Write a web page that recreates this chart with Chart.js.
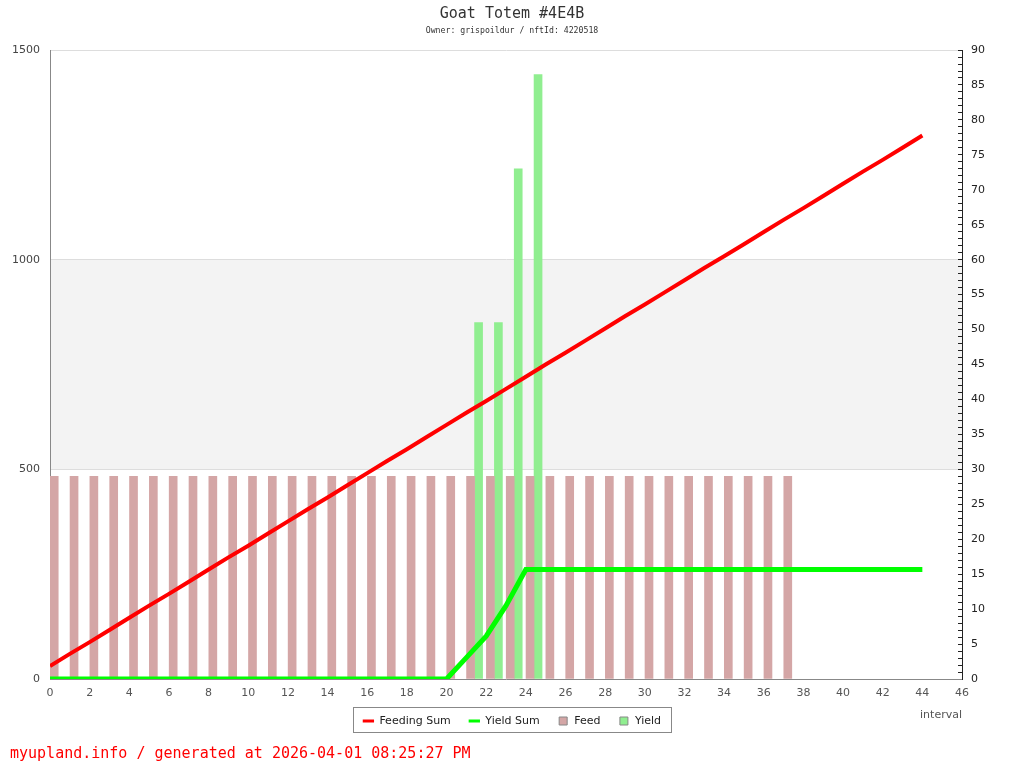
<!DOCTYPE html>
<html>
<head>
<meta charset="utf-8">
<script src="https://cdn.jsdelivr.net/npm/chart.js@4"></script>
<style>
  body { margin: 0; background: #fff; }
  #wrap { position: relative; width: 1024px; height: 768px; }
  #footer { position: absolute; left: 10px; top: 744px; font: 15px "DejaVu Sans Mono", monospace; color: #ff0000; line-height: 18px; white-space: nowrap; }
</style>
</head>
<body>
<div id="wrap">
  <canvas id="chart"></canvas>
  <div id="footer">myupland.info / generated at 2026-04-01 08:25:27 PM</div>
</div>
<script>
// data (x = interval index)
const feedingSum = [31, 60, 88, 117, 146, 175, 203, 232, 261, 290, 318, 347, 376, 405, 433, 462,
  491, 520, 548, 577, 606, 635, 663, 692, 721, 750, 778, 807, 836, 865, 893, 922, 951, 980,
  1008, 1037, 1066, 1095, 1123, 1152, 1181, 1210, 1238, 1267, 1296];
const yieldSum = [0, 0, 0, 0, 0, 0, 0, 0, 0, 0, 0, 0, 0, 0, 0, 0, 0, 0, 0, 0, 0,
  51, 102, 175, 261, 261, 261, 261, 261, 261, 261, 261, 261, 261, 261, 261, 261, 261,
  261, 261, 261, 261, 261, 261, 261];
const feed = [29, 29, 29, 29, 29, 29, 29, 29, 29, 29, 29, 29, 29, 29, 29, 29, 29, 29, 29,
  29, 29, 29, 29, 29, 29, 29, 29, 29, 29, 29, 29, 29, 29, 29, 29, 29, 29, 29];
const yieldIntervals = [21, 22, 23, 24];
const yieldValues = [51, 51, 73, 86.5];

const xMax = 46;
const leftMax = 1500;
const rightMax = 90;
const band = [500, 1000];

// light grey band between 500 and 1000 on the left axis
const bandPlugin = {
  id: 'band',
  beforeDraw(chart) {
    const { ctx, chartArea, scales } = chart;
    const y1 = scales.y.getPixelForValue(band[1]);
    const y2 = scales.y.getPixelForValue(band[0]);
    ctx.save();
    ctx.fillStyle = '#f3f3f3';
    ctx.fillRect(chartArea.left, y1, chartArea.right - chartArea.left, y2 - y1);
    ctx.restore();
  }
};

// frame round the legend
const legendFrame = {
  id: 'legendFrame',
  afterDraw(chart) {
    const lg = chart.legend;
    if (!lg || !lg.legendHitBoxes.length) return;
    const hb = lg.legendHitBoxes;
    const left = Math.min(...hb.map(b => b.left)) - 10;
    const right = Math.max(...hb.map(b => b.left + b.width)) + 10;
    const top = hb[0].top - 8.5;
    const bottom = hb[0].top + hb[0].height + 5.5;
    const ctx = chart.ctx;
    ctx.save();
    ctx.strokeStyle = '#888';
    ctx.lineWidth = 1;
    ctx.strokeRect(Math.round(left) + 0.5, Math.round(top) + 0.5, Math.round(right - left), Math.round(bottom - top));
    ctx.restore();
  }
};

Chart.defaults.font.family = 'DejaVu Sans';
Chart.defaults.font.size = 11;

new Chart(document.getElementById('chart'), {
  type: 'line',
  data: {
    datasets: [
      {
        type: 'line', label: 'Feeding Sum',
        data: feedingSum.map((v, i) => ({ x: i, y: v })),
        xAxisID: 'x', yAxisID: 'y',
        borderColor: '#ff0000', backgroundColor: '#ff0000',
        borderWidth: 4, pointRadius: 0, tension: 0, clip: 0
      },
      {
        type: 'line', label: 'Yield Sum',
        data: yieldSum.map((v, i) => ({ x: i, y: v })),
        xAxisID: 'x', yAxisID: 'y',
        borderColor: '#00ff00', backgroundColor: '#00ff00',
        borderWidth: 5, pointRadius: 0, tension: 0, clip: 0
      },
      {
        type: 'bar', label: 'Feed',
        data: feed.map((v, i) => ({ x: i, y: v })),
        xAxisID: 'xBar', yAxisID: 'y1',
        backgroundColor: '#d4a6a6',
        barThickness: 8
      },
      {
        type: 'bar', label: 'Yield',
        data: yieldIntervals.map((x, i) => ({ x: x, y: yieldValues[i] })),
        xAxisID: 'xBar', yAxisID: 'y1',
        backgroundColor: '#90ee90',
        barThickness: 8
      }
    ]
  },
  options: {
    responsive: true,
    maintainAspectRatio: false,
    animation: false,
    layout: { padding: { left: 0, right: 0, top: 0, bottom: 31.5 } },
    plugins: {
      title: {
        display: true, text: 'Goat Totem #4E4B', color: '#333',
        font: { family: 'DejaVu Sans Mono', size: 15, weight: 'normal' },
        padding: { top: 5, bottom: 2 }
      },
      subtitle: {
        display: true, text: 'Owner: grispoildur / nftId: 4220518', color: '#333',
        font: { family: 'DejaVu Sans Mono', size: 8.2 },
        padding: { top: 1.1, bottom: 14.1 }
      },
      legend: {
        position: 'bottom',
        labels: {
          usePointStyle: true, boxHeight: 8, padding: 18, color: '#222',
          font: { size: 11 },
          generateLabels: chart => Chart.defaults.plugins.legend.labels.generateLabels(chart).map(item => {
            const ds = chart.data.datasets[item.datasetIndex];
            if (ds.type === 'line') {
              item.pointStyle = 'line'; item.lineWidth = 3; item.strokeStyle = ds.borderColor;
            } else {
              item.pointStyle = 'rect'; item.lineWidth = 1; item.strokeStyle = '#888';
              item.fillStyle = ds.backgroundColor;
            }
            return item;
          })
        }
      },
      tooltip: { enabled: false }
    },
    scales: {
      x: {
        type: 'linear', position: 'bottom', min: 0, max: xMax, offset: false,
        ticks: { stepSize: 2, color: '#555', padding: 8 },
        grid: { drawOnChartArea: false, drawTicks: false, offset: false },
        border: { display: true, color: '#888' },
        title: { display: true, text: 'interval', align: 'end', color: '#555', padding: { top: 0, bottom: -24.1 } },
        afterFit: s => { s.height = 18.5; }
      },
      // hidden axis for the bars, shifted so each bar pair sits to the right of its interval
      xBar: {
        type: 'linear', display: false, min: -0.415, max: xMax - 0.415, offset: false,
        grid: { offset: false }
      },
      y: {
        type: 'linear', position: 'left', min: 0, max: leftMax,
        ticks: { stepSize: 500, color: '#444', padding: 10, callback: v => v },
        grid: { color: '#dddddd', drawTicks: false },
        border: { display: true, color: '#888' },
        afterFit: s => { s.width = 50; }
      },
      y1: {
        type: 'linear', position: 'right', min: 0, max: rightMax,
        ticks: {
          stepSize: 1, autoSkip: false, color: '#222', padding: 13,
          callback: v => (v % 5 === 0 ? v : '')
        },
        grid: { drawOnChartArea: false, drawTicks: true, tickLength: -4, color: '#222' },
        border: { display: true, color: '#222' },
        afterFit: s => { s.width = 62; }
      }
    }
  },
  plugins: [bandPlugin, legendFrame]
});
</script>
</body>
</html>
